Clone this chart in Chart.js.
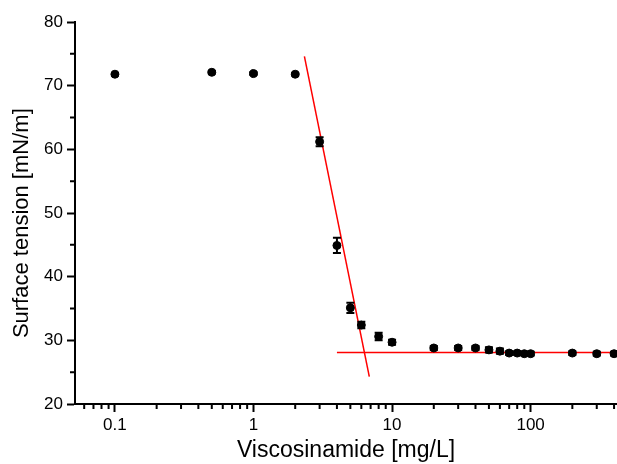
<!DOCTYPE html>
<html>
<head>
<meta charset="utf-8">
<script src="https://cdn.jsdelivr.net/npm/chart.js@4/dist/chart.umd.min.js"></script>
<style>
  body { margin: 0; background: #fff; }
</style>
</head>
<body>
<canvas id="surface_chart" width="617" height="464"></canvas>
<script>
// measured data
const conc = [0.1, 0.5, 1, 2, 3, 4, 5, 6, 8, 10, 20, 30, 40, 50, 60, 70, 80, 90, 100, 200, 300, 400];
const tension = [71.8, 72.1, 71.9, 71.8, 61.2, 44.9, 35.1, 32.4, 30.6, 29.7, 28.8, 28.8, 28.8, 28.5, 28.3, 28.0, 28.0, 27.9, 27.9, 28.0, 27.9, 27.9];
const tensionErr = [0.2, 0.2, 0.2, 0.2, 0.7, 1.2, 0.8, 0.5, 0.6, 0.4, 0.3, 0.3, 0.3, 0.4, 0.4, 0.3, 0.3, 0.3, 0.3, 0.3, 0.3, 0.3];

// fitted lines (red)
const slopeX = [2.33, 6.85];
const slopeY = [74.6, 24.3];
const plateauX = [4, 420];
const plateauY = [28.1, 28.1];

// ticks
const xMajor = [0.1, 1, 10, 100];
const xMinor = [0.06, 0.07, 0.08, 0.09, 0.2, 0.3, 0.4, 0.5, 0.6, 0.7, 0.8, 0.9,
  2, 3, 4, 5, 6, 7, 8, 9, 20, 30, 40, 50, 60, 70, 80, 90, 200, 300, 400];
const yMajor = [20, 30, 40, 50, 60, 70, 80];
const yMinor = [25, 35, 45, 55, 65, 75];

const yTitle = 'Surface tension [mN/m]';

function toPoints(xs, ys) {
  return xs.map((v, i) => ({ x: v, y: ys[i] }));
}

// error bars + minor ticks + y title
const extras = {
  id: 'extras',
  afterDatasetsDraw(chart) {
    const ctx = chart.ctx;
    const sx = chart.scales.x;
    const sy = chart.scales.y;
    const area = chart.chartArea;
    ctx.save();
    ctx.strokeStyle = '#000';
    ctx.lineWidth = 2;
    for (let i = 0; i < conc.length; i++) {
      const px = sx.getPixelForValue(conc[i]);
      const top = sy.getPixelForValue(tension[i] + tensionErr[i]);
      const bot = sy.getPixelForValue(tension[i] - tensionErr[i]);
      ctx.beginPath();
      ctx.moveTo(px, top);
      ctx.lineTo(px, bot);
      ctx.moveTo(px - 4, top);
      ctx.lineTo(px + 4, top);
      ctx.moveTo(px - 4, bot);
      ctx.lineTo(px + 4, bot);
      ctx.stroke();
    }
    ctx.beginPath();
    xMinor.forEach((v) => {
      const px = sx.getPixelForValue(v);
      ctx.moveTo(px, area.bottom);
      ctx.lineTo(px, area.bottom + 5);
    });
    yMinor.forEach((v) => {
      const py = sy.getPixelForValue(v);
      ctx.moveTo(area.left, py);
      ctx.lineTo(area.left - 5, py);
    });
    ctx.stroke();

    // y title sits a bit below the axis middle in the original
    ctx.translate(22, sy.getPixelForValue(48.4));
    ctx.rotate(-Math.PI / 2);
    ctx.fillStyle = '#000';
    ctx.font = '22px "Liberation Sans"';
    ctx.textAlign = 'center';
    ctx.textBaseline = 'middle';
    ctx.fillText(yTitle, 0, 0);
    ctx.restore();
  }
};

const config = {
  type: 'scatter',
  data: {
    datasets: [
      {
        label: 'Surface tension',
        data: toPoints(conc, tension),
        backgroundColor: '#000',
        borderColor: '#000',
        pointRadius: 4,
        pointHoverRadius: 4,
        showLine: false,
        order: 1
      }, {
        label: 'slope',
        data: toPoints(slopeX, slopeY),
        borderColor: '#ff0000',
        borderWidth: 1.5,
        pointRadius: 0,
        showLine: true,
        order: 2
      }, {
        label: 'plateau',
        data: toPoints(plateauX, plateauY),
        borderColor: '#ff0000',
        borderWidth: 1.5,
        pointRadius: 0,
        showLine: true,
        order: 2
      }
    ]
  },
  options: {
    responsive: false,
    animation: false,
    layout: { autoPadding: false, padding: { top: 22, right: 0, left: 0, bottom: 0 } },
    plugins: {
      legend: { display: false },
      tooltip: { enabled: false }
    },
    scales: {
      x: {
        type: 'logarithmic',
        min: 0.0515,
        max: 420,
        afterBuildTicks: (axis) => { axis.ticks = xMajor.map((v) => ({ value: v })); },
        afterFit: (axis) => { axis.height = 60; },
        border: { display: true, color: '#000', width: 2 },
        grid: { drawOnChartArea: false, drawTicks: true, tickLength: 8, tickColor: '#000', tickWidth: 2 },
        ticks: {
          color: '#000',
          padding: 3,
          maxRotation: 0,
          font: { family: 'Liberation Sans', size: 17 },
          callback: (v) => String(v)
        },
        title: {
          display: true,
          text: 'Viscosinamide [mg/L]',
          color: '#000',
          font: { family: 'Liberation Sans', size: 23 },
          padding: { top: 0, bottom: 0 }
        }
      },
      y: {
        type: 'linear',
        min: 20,
        max: 80,
        afterBuildTicks: (axis) => { axis.ticks = yMajor.map((v) => ({ value: v })); },
        afterFit: (axis) => { axis.width = 75; },
        border: { display: true, color: '#000', width: 2 },
        grid: { drawOnChartArea: false, drawTicks: true, tickLength: 8, tickColor: '#000', tickWidth: 2 },
        ticks: {
          color: '#000',
          padding: 4,
          font: { family: 'Liberation Sans', size: 17 }
        },
        title: { display: false }
      }
    }
  },
  plugins: [extras]
};

const surfaceChart = new Chart(document.getElementById('surface_chart'), config);
</script>
</body>
</html>
